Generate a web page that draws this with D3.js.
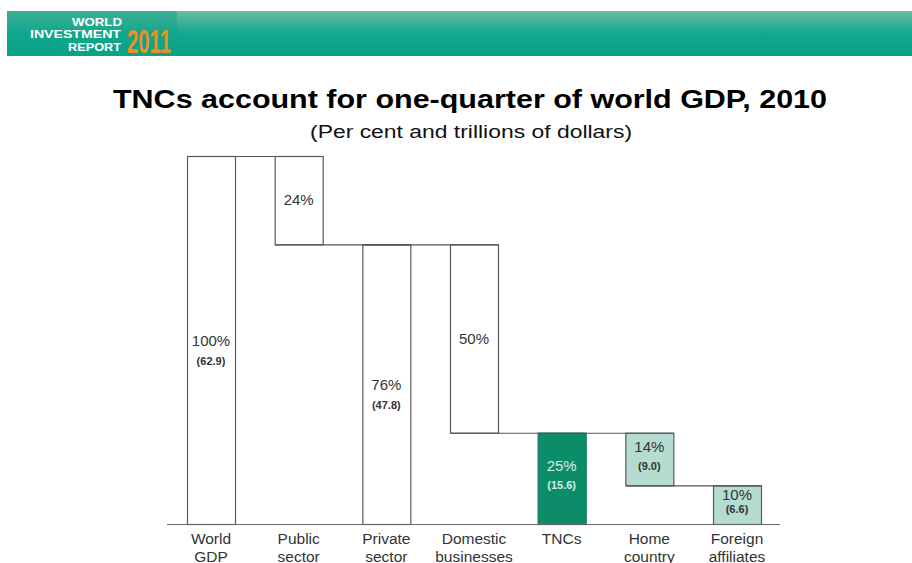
<!DOCTYPE html>
<html>
<head>
<meta charset="utf-8">
<script src="https://cdn.jsdelivr.net/npm/d3@7"></script>
<style>
  html, body { margin: 0; padding: 0; background: #fff; }
  svg { display: block; font-family: "Liberation Sans", Arial, Helvetica, sans-serif; }
</style>
</head>
<body>
<svg id="chart" width="912" height="563"></svg>
<script>
// Waterfall of world GDP, 2010 (trillions of dollars)
const categories = ["World\nGDP", "Public\nsector", "Private\nsector", "Domestic\nbusinesses", "TNCs", "Home\ncountry", "Foreign\naffiliates"];
const shareLabels = ["100%", "24%", "76%", "50%", "25%", "14%", "10%"];
const trillionLabels = ["(62.9)", null, "(47.8)", null, "(15.6)", "(9.0)", "(6.6)"];
const barLow  = [0, 47.8, 0, 15.6, 0, 6.6, 0];
const barHigh = [62.9, 62.9, 47.8, 47.8, 15.6, 15.6, 6.6];
const barKind = ["total", "part", "total", "part", "tnc", "sub", "sub"];

const svg = d3.select("#chart");

// ---- header banner ----
const defs = svg.append("defs");
const band = defs.append("linearGradient").attr("id", "band").attr("x1", 0).attr("y1", 0).attr("x2", 0).attr("y2", 1);
band.append("stop").attr("offset", "0%").attr("stop-color", "#6cbba5");
band.append("stop").attr("offset", "48%").attr("stop-color", "#14a98f");
band.append("stop").attr("offset", "100%").attr("stop-color", "#06a085");
const logoBand = defs.append("linearGradient").attr("id", "logoBand").attr("x1", 0).attr("y1", 0).attr("x2", 0).attr("y2", 1);
logoBand.append("stop").attr("offset", "0%").attr("stop-color", "#3fb096");
logoBand.append("stop").attr("offset", "50%").attr("stop-color", "#10a78c");
logoBand.append("stop").attr("offset", "100%").attr("stop-color", "#0aa287");

svg.append("rect").attr("x", 7).attr("y", 11).attr("width", 905).attr("height", 45).attr("fill", "url(#band)");
svg.append("rect").attr("x", 7).attr("y", 11).attr("width", 170).attr("height", 45).attr("fill", "url(#logoBand)");

const logo = svg.append("g").attr("font-weight", "bold").attr("fill", "#fff").attr("text-anchor", "end")
  .attr("font-size", 11);
logo.append("text").attr("x", 122).attr("y", 25.5).attr("textLength", 50).attr("lengthAdjust", "spacingAndGlyphs").text("WORLD");
logo.append("text").attr("x", 121).attr("y", 38).attr("textLength", 91).attr("lengthAdjust", "spacingAndGlyphs").text("INVESTMENT");
logo.append("text").attr("x", 121).attr("y", 50.5).attr("textLength", 53).attr("lengthAdjust", "spacingAndGlyphs").text("REPORT");
svg.append("text").attr("x", 127).attr("y", 53).attr("font-size", 33).attr("font-weight", "bold")
  .attr("fill", "#ee8e26").attr("textLength", 44).attr("lengthAdjust", "spacingAndGlyphs").text("2011");

// ---- titles (set slightly wide) ----
svg.append("text").attr("transform", "translate(113,107.5) scale(1.188,1)")
  .attr("font-size", 25.5).attr("font-weight", "bold").attr("fill", "#000")
  .attr("textLength", 601).attr("lengthAdjust", "spacingAndGlyphs")
  .text("TNCs account for one-quarter of world GDP, 2010");
svg.append("text").attr("transform", "translate(310,138) scale(1.22,1)")
  .attr("font-size", 18.5).attr("fill", "#111")
  .attr("textLength", 264).attr("lengthAdjust", "spacingAndGlyphs")
  .text("(Per cent and trillions of dollars)");

// ---- scales ----
const x = d3.scaleBand().domain(categories).range([187, 761]).paddingInner(0.4525).paddingOuter(0);
const y = d3.scaleLinear().domain([0, 62.9]).range([524, 156]);
const bw = x.bandwidth();

const rows = categories.map((c, i) => ({
  cat: c, low: barLow[i], high: barHigh[i], kind: barKind[i],
  share: shareLabels[i], tril: trillionLabels[i]
}));

const fillFor = k => k === "tnc" ? "#0d8c6a" : (k === "sub" ? "#b4dcd1" : "#ffffff");
const strokeFor = k => k === "tnc" ? "#0b7a5c" : "#5a5a5a";

// bars
svg.append("g").selectAll("rect").data(rows).join("rect")
  .attr("x", d => x(d.cat) + 0.5)
  .attr("y", d => y(d.high) + 0.5)
  .attr("width", bw)
  .attr("height", d => y(d.low) - y(d.high))
  .attr("fill", d => fillFor(d.kind))
  .attr("stroke", d => strokeFor(d.kind))
  .attr("stroke-width", 1.2);

// connectors: at the top of each next bar, spanning both bars
const links = rows.slice(1).map((d, i) => ({ from: rows[i], to: d }));
svg.append("g").selectAll("line").data(links).join("line")
  .attr("x1", d => x(d.from.cat) + 0.5)
  .attr("x2", d => x(d.to.cat) + bw + 0.5)
  .attr("y1", d => y(d.to.high) + 0.5)
  .attr("y2", d => y(d.to.high) + 0.5)
  .attr("stroke", "#555").attr("stroke-width", 1.2);

// baseline axis
const axis = svg.append("g").attr("transform", `translate(0,${y(0) + 0.5})`)
  .call(d3.axisBottom(x).tickSize(0).tickFormat(""));
axis.select(".domain").attr("d", "M167,0H780").attr("stroke", "#666").attr("stroke-width", 1.2);

// category labels (two lines)
const catText = svg.append("g").selectAll("text").data(rows).join("text")
  .attr("x", d => x(d.cat) + bw / 2)
  .attr("y", y(0) + 19.5)
  .attr("text-anchor", "middle").attr("font-size", 15.5).attr("fill", "#333");
catText.each(function(d) {
  const parts = d.cat.split("\n");
  d3.select(this).selectAll("tspan").data(parts).join("tspan")
    .attr("x", x(d.cat) + bw / 2)
    .attr("dy", (p, j) => j === 0 ? 0 : 18)
    .text(p => p);
});

// value labels inside bars
const lab = svg.append("g").attr("text-anchor", "middle");
rows.forEach(d => {
  const top = y(d.high), bot = y(d.low), h = bot - top, mid = (top + bot) / 2;
  const cx = x(d.cat) + bw / 2;
  const col = d.kind === "tnc" ? "#d4efe6" : "#333";
  let pctY, trilY;
  if (!d.tril) {
    pctY = mid + 5;
  } else if (h > 150) {
    pctY = mid + 6; trilY = mid + 25;
  } else {
    const gap = Math.min(18, h * 0.34);
    pctY = mid + 5 - gap / 2 - 3; trilY = pctY + gap;
  }
  lab.append("text").attr("x", cx).attr("y", pctY).attr("font-size", 15).attr("fill", col).text(d.share);
  if (d.tril) {
    lab.append("text").attr("x", cx).attr("y", trilY).attr("font-size", 11)
      .attr("font-weight", "bold").attr("fill", col).text(d.tril);
  }
});
</script>
</body>
</html>
